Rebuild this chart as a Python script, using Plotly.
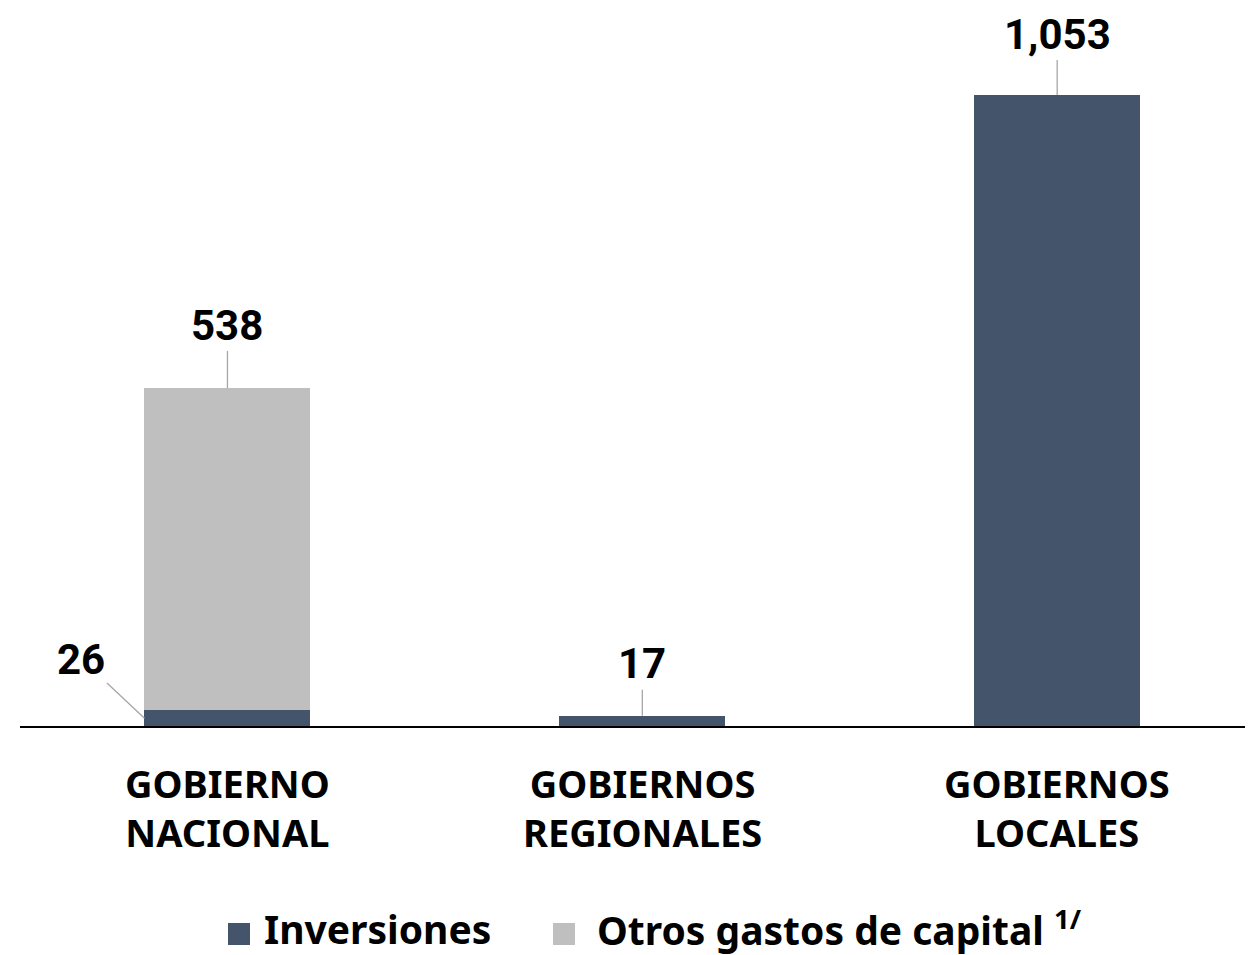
import plotly.graph_objects as go

# ---- data ----
categories = ["GOBIERNO NACIONAL", "GOBIERNOS REGIONALES", "GOBIERNOS LOCALES"]
category_lines = [["GOBIERNO", "NACIONAL"], ["GOBIERNOS", "REGIONALES"], ["GOBIERNOS", "LOCALES"]]
inversiones = [26, 17, 1053]
otros = [538, 0, 0]
series_names = ["Inversiones", "Otros gastos de capital"]

# ---- styling ----
OFF = 8  # page body margin
W, H = 1253 - OFF, 955 - OFF
L, R, T, B = 12, 0, 0, 229
PW, PH = W - L - R, H - T - B
C_INV = "#44546A"
C_OTR = "#BFBFBF"
LEADER = "#A6A6A6"
CAT_FONT = "Noto Sans"
NUM_FONT = "Roboto"

def px_x(px):
    return (px - OFF - L) / PW

def px_y(py):
    return (H - B - (py - OFF)) / PH

fig = go.Figure()
fig.add_trace(go.Bar(x=categories, y=inversiones, name=series_names[0],
                     marker=dict(color=C_INV, line=dict(width=0)), width=0.4))
fig.add_trace(go.Bar(x=categories, y=otros, name=series_names[1],
                     marker=dict(color=C_OTR, line=dict(width=0)), width=0.4))

annotations = []
num_font = dict(family=NUM_FONT, size=42, color="black")
# Gobierno Nacional: Otros (top of stack)
annotations.append(dict(x=0, y=inversiones[0] + otros[0], xref="x", yref="y",
                        text=f"<b>{otros[0]:,}</b>", showarrow=True, arrowhead=0,
                        arrowwidth=1.3, arrowcolor=LEADER, ax=0, ay=-63, font=num_font))
# Gobierno Nacional: Inversiones (left side)
annotations.append(dict(x=-0.2, y=inversiones[0] / 2, xref="x", yref="y",
                        text=f"<b>{inversiones[0]:,}</b>", showarrow=True, arrowhead=0,
                        arrowwidth=1.3, arrowcolor=LEADER, ax=-63, ay=-59, font=num_font))
# Regionales / Locales
for i in (1, 2):
    annotations.append(dict(x=i, y=inversiones[i] + otros[i], xref="x", yref="y",
                            text=f"<b>{inversiones[i]:,}</b>", showarrow=True, arrowhead=0,
                            arrowwidth=1.3, arrowcolor=LEADER, ax=0,
                            ay=-52 if i == 1 else -61, font=num_font))

# category labels (two lines each, one text block)
for i, lines in enumerate(category_lines):
    annotations.append(dict(x=i, y=0, xref="x", yref="paper", yanchor="middle",
                            yshift=-81, showarrow=False,
                            text="<b>" + "<br>".join(lines) + "</b>",
                            font=dict(family=CAT_FONT, size=38, color="black")))

# legend
leg_font = dict(family=CAT_FONT, size=39, color="black")
annotations.append(dict(x=px_x(262), y=px_y(928), xref="paper", yref="paper",
                        xanchor="left", yanchor="middle", showarrow=False,
                        text=f"<b>{series_names[0]}</b>", font=leg_font))
annotations.append(dict(x=px_x(595), y=px_y(928), xref="paper", yref="paper",
                        xanchor="left", yanchor="middle", showarrow=False,
                        text=f"<b>{series_names[1]} <sup>1/</sup></b>", font=leg_font))
shapes = [
    dict(type="rect", xref="paper", yref="paper", x0=px_x(228), x1=px_x(250),
         y0=px_y(945), y1=px_y(923), fillcolor=C_INV, line=dict(width=0)),
    dict(type="rect", xref="paper", yref="paper", x0=px_x(553), x1=px_x(575),
         y0=px_y(945), y1=px_y(923), fillcolor=C_OTR, line=dict(width=0)),
]

fig.update_layout(
    width=W, height=H, barmode="stack", showlegend=False,
    margin=dict(l=L, r=R, t=T, b=B),
    paper_bgcolor="white", plot_bgcolor="white",
    xaxis=dict(type="category", range=[-0.5, 2.472], showline=True, linecolor="black",
               linewidth=1.5, showticklabels=False, ticks="", showgrid=False, zeroline=False),
    yaxis=dict(range=[0, PH / (631 / 1053)], visible=False, showgrid=False, zeroline=False),
    annotations=annotations, shapes=shapes,
)

fig.write_html("out.html")
